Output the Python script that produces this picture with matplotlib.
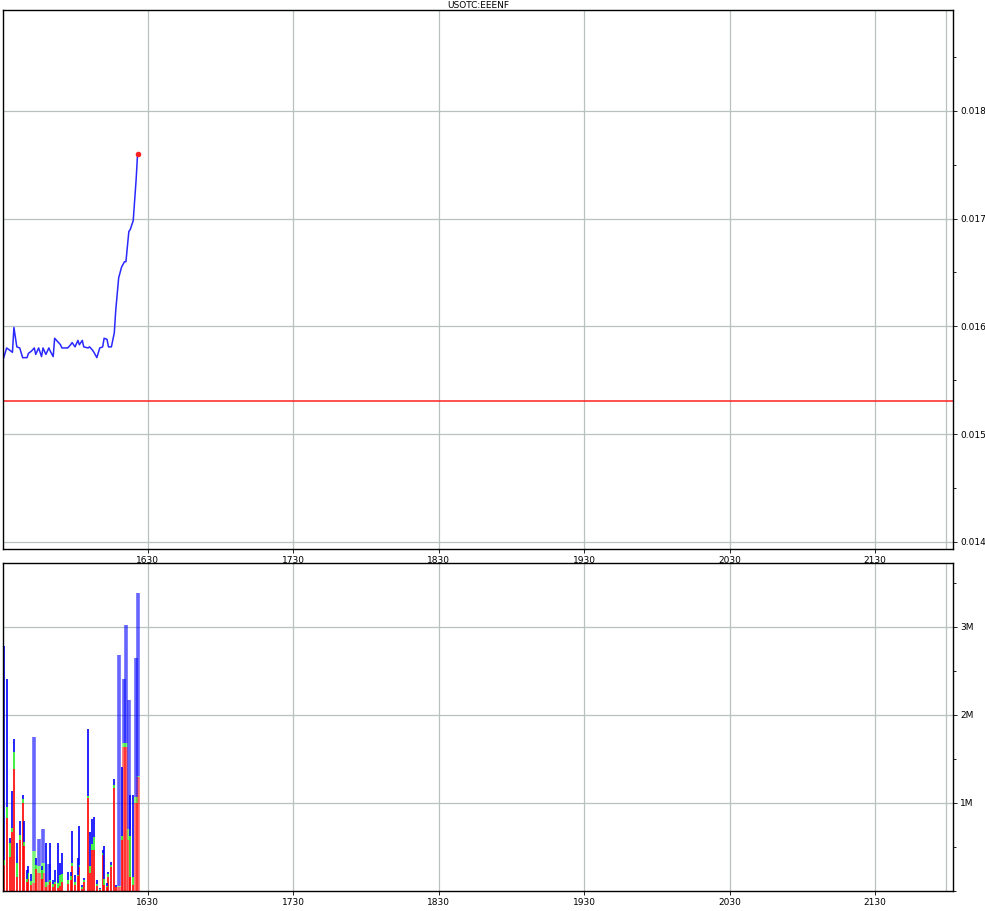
import matplotlib
matplotlib.use("Agg")
import matplotlib.pyplot as plt
from matplotlib.ticker import FixedLocator, FuncFormatter, MultipleLocator
import numpy as np

title = "USOTC:EEENF"

days = [1531, 1533, 1535, 1537, 1538, 1540, 1542, 1544, 1545, 1547, 1548, 1550,
        1552, 1553, 1555, 1557, 1558, 1560, 1562, 1563, 1565, 1566, 1568, 1570,
        1571, 1575, 1577, 1578, 1580, 1582, 1583, 1585, 1586, 1589, 1590, 1592,
        1593, 1595, 1597, 1599, 1600, 1602, 1603, 1605, 1607, 1608, 1610, 1612,
        1614, 1615, 1617, 1618, 1620, 1622, 1623]

price = [0.01571, 0.01580, 0.01578, 0.01576, 0.01599, 0.01581, 0.01580, 0.01571,
         0.01571, 0.01571, 0.01575, 0.01577, 0.01580, 0.01574, 0.01580, 0.01572,
         0.01580, 0.01574, 0.01580, 0.01577, 0.01572, 0.01589, 0.01586, 0.01583,
         0.01580, 0.01580, 0.01583, 0.01585, 0.01581, 0.01587, 0.01583, 0.01587,
         0.01581, 0.01580, 0.01581, 0.01578, 0.01576, 0.01571, 0.01580, 0.01581,
         0.01589, 0.01588, 0.01581, 0.01581, 0.01594, 0.01615, 0.01645, 0.01655,
         0.01660, 0.01660, 0.01688, 0.01690, 0.01698, 0.01736, 0.01760]

ref_level = 0.01531

# volume (millions): total, top of green segment, top of red segment
vol_total = [2.78, 2.41, 0.60, 1.14, 1.73, 0.55, 0.80, 1.09, 0.80, 0.24, 0.28, 0.19,
             1.75, 0.38, 0.59, 0.28, 0.71, 0.55, 0.31, 0.55, 0.13, 0.24, 0.55, 0.32,
             0.43, 0.22, 0.22, 0.68, 0.18, 0.37, 0.74, 0.07, 0.15, 1.84, 0.67, 0.82,
             0.84, 0.13, 0.03, 0.47, 0.51, 0.09, 0.22, 0.33, 1.27, 0.07, 2.68, 1.41,
             2.41, 3.02, 2.17, 1.09, 1.09, 2.65, 3.39]
vol_green_top = [0.35, 0.96, 0.55, 0.72, 1.58, 0.32, 0.64, 1.05, 0.56, 0.14, 0.20, 0.11,
                 0.45, 0.30, 0.28, 0.24, 0.32, 0.10, 0.10, 0.12, 0.08, 0.10, 0.09, 0.18,
                 0.19, 0.12, 0.17, 0.32, 0.10, 0.18, 0.30, 0.04, 0.12, 1.08, 0.28, 0.53,
                 0.61, 0.08, 0.02, 0.43, 0.14, 0.06, 0.19, 0.30, 1.20, 0.05, 0.06, 0.62,
                 1.68, 1.68, 0.71, 0.63, 0.16, 1.07, 1.31]
vol_red = [0.30, 0.83, 0.39, 0.67, 1.39, 0.16, 0.58, 1.00, 0.51, 0.10, 0.14, 0.07,
           0.09, 0.25, 0.21, 0.14, 0.20, 0.05, 0.07, 0.10, 0.05, 0.08, 0.03, 0.06,
           0.10, 0.08, 0.12, 0.28, 0.07, 0.17, 0.27, 0.02, 0.10, 1.06, 0.20, 0.47,
           0.47, 0.06, 0.01, 0.41, 0.07, 0.05, 0.16, 0.27, 1.17, 0.04, 0.04, 0.58,
           1.64, 1.64, 0.58, 0.16, 0.07, 1.00, 1.30]
wide_bars = [12, 14, 16, 18, 46, 48, 49, 50, 53, 54]

x_ticks = [1630, 1730, 1830, 1930, 2030, 2130]
x_extra_grid = [2179]
price_ticks = [0.014, 0.015, 0.016, 0.017, 0.018]
vol_ticks = [1, 2, 3]

xlim = (1530.5, 2183.5)

fig = plt.figure(figsize=(9.85, 9.11), dpi=100)
W, H = 985, 911
ax1 = fig.add_axes([3 / W, 1 - 549 / H, 950 / W, 539 / H])
ax2 = fig.add_axes([3 / W, 1 - 891 / H, 950 / W, 328 / H])

gridc = "#b8c0c0"
for ax in (ax1, ax2):
    ax.set_xlim(*xlim)
    ax.xaxis.set_major_locator(FixedLocator(x_ticks))
    ax.xaxis.set_minor_locator(FixedLocator(x_extra_grid))
    ax.yaxis.tick_right()
    ax.tick_params(axis="both", which="major", labelsize=6.5, length=3, width=0.6,
                   pad=2, colors="black")
    ax.tick_params(axis="x", which="minor", length=0)
    ax.tick_params(axis="y", which="minor", length=2, width=0.6, right=True, left=False)
    ax.grid(True, which="major", color=gridc, lw=0.9)
    ax.grid(True, which="minor", axis="x", color=gridc, lw=0.9)
    for s in ax.spines.values():
        s.set_linewidth(1.0)
        s.set_color("black")
    ax.set_axisbelow(True)

# price panel
ax1.set_ylim(0.013935, 0.018935)
ax1.yaxis.set_major_locator(FixedLocator(price_ticks))
ax1.yaxis.set_minor_locator(MultipleLocator(0.0005))
ax1.yaxis.set_major_formatter(FuncFormatter(lambda v, p: f"{v:.3f}"))
ax1.axhline(ref_level, color="#ff2020", lw=1.1)
ax1.plot(days, price, color="#2828ff", lw=1.1)
ax1.plot([days[-1]], [price[-1]], "o", color="#ff2020", ms=3)
ax1.set_title(title, fontsize=6.5, pad=1.5)

# volume panel (stacked: red bottom, green middle, blue top)
total = np.array(vol_total)
gtop = np.array(vol_green_top)
red = np.array(vol_red)
x = np.array(days, dtype=float)
wide = np.zeros(len(days), dtype=bool)
wide[wide_bars] = True
for mask, lw, a in ((wide, 2.6, 0.6), (~wide, 1.2, 1.0)):
    kw = dict(linewidth=lw, alpha=a, capstyle="butt")
    ax2.vlines(x[mask], 0, red[mask], color="#ff0000", **kw)
    ax2.vlines(x[mask], red[mask], gtop[mask], color="#22ee22", **kw)
    ax2.vlines(x[mask], gtop[mask], total[mask], color="#0000ff", **kw)
ax2.set_ylim(0, 3.727)
ax2.yaxis.set_major_locator(FixedLocator(vol_ticks))
ax2.yaxis.set_minor_locator(MultipleLocator(0.5))
ax2.yaxis.set_major_formatter(FuncFormatter(lambda v, p: f"{v:.0f}M"))

fig.savefig("out.png", dpi=100)
